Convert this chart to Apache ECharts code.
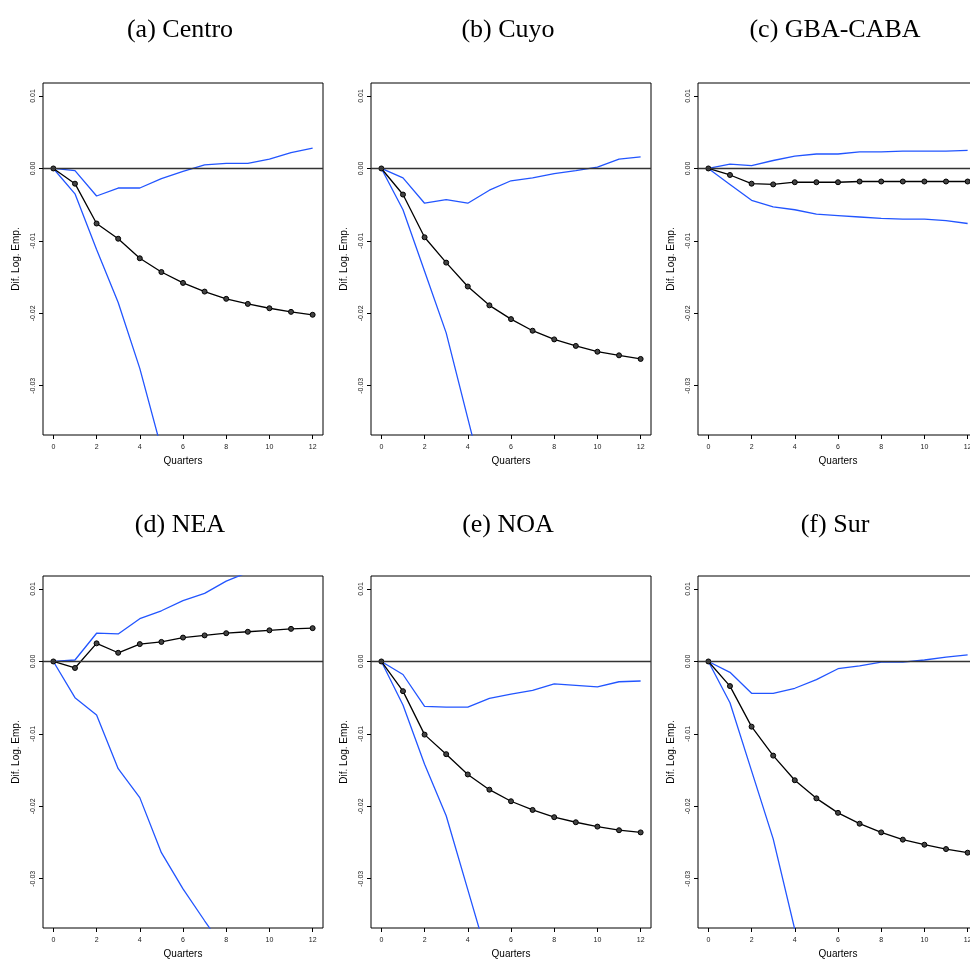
<!DOCTYPE html>
<html>
<head>
<meta charset="utf-8">
<script src="https://cdn.jsdelivr.net/npm/echarts@6.0.0/dist/echarts.min.js"></script>
<style>
  html, body { margin: 0; padding: 0; background: #fff; }
  #chart { width: 970px; height: 960px; }
</style>
</head>
<body>
<div id="chart"></div>
<script>
// quarters after the shock
const quarters = [0, 1, 2, 3, 4, 5, 6, 7, 8, 9, 10, 11, 12];
const xTicks = [0, 2, 4, 6, 8, 10, 12];
const yTicks = [-0.03, -0.02, -0.01, 0, 0.01];

// (a) Centro
const centroMean  = [0, -0.0021, -0.0076, -0.0097, -0.0124, -0.0143, -0.0158, -0.0170, -0.0180, -0.0187, -0.0193, -0.0198, -0.0202];
const centroUpper = [0, -0.0003, -0.0038, -0.0027, -0.0027, -0.0014, -0.0004, 0.0005, 0.0007, 0.0007, 0.0013, 0.0022, 0.0028];
const centroLower = [0, -0.0035, -0.0112, -0.0185, -0.0276, -0.0387];
// (b) Cuyo
const cuyoMean  = [0, -0.0036, -0.0095, -0.0130, -0.0163, -0.0189, -0.0208, -0.0224, -0.0236, -0.0245, -0.0253, -0.0258, -0.0263];
const cuyoUpper = [0, -0.0013, -0.0048, -0.0043, -0.0048, -0.0030, -0.0017, -0.0013, -0.0007, -0.0003, 0.0002, 0.0013, 0.0016];
const cuyoLower = [0, -0.0057, -0.0142, -0.0227, -0.0345, -0.0463];
// (c) GBA-CABA
const gbaMean  = [0, -0.0009, -0.0021, -0.0022, -0.0019, -0.0019, -0.0019, -0.0018, -0.0018, -0.0018, -0.0018, -0.0018, -0.0018];
const gbaUpper = [0, 0.0006, 0.0004, 0.0011, 0.0017, 0.0020, 0.0020, 0.0023, 0.0023, 0.0024, 0.0024, 0.0024, 0.0025];
const gbaLower = [0, -0.0022, -0.0044, -0.0053, -0.0057, -0.0063, -0.0065, -0.0067, -0.0069, -0.0070, -0.0070, -0.0072, -0.0076];
// (d) NEA
const neaMean  = [0, -0.0009, 0.0025, 0.0012, 0.0024, 0.0027, 0.0033, 0.0036, 0.0039, 0.0041, 0.0043, 0.0045, 0.0046];
const neaUpper = [0, 0.0002, 0.0039, 0.0038, 0.0059, 0.0070, 0.0084, 0.0094, 0.0111, 0.0123];
const neaLower = [0, -0.0050, -0.0074, -0.0148, -0.0188, -0.0264, -0.0314, -0.0358, -0.0401];
// (e) NOA
const noaMean  = [0, -0.0041, -0.0101, -0.0128, -0.0156, -0.0177, -0.0193, -0.0205, -0.0215, -0.0222, -0.0228, -0.0233, -0.0236];
const noaUpper = [0, -0.0018, -0.0062, -0.0063, -0.0063, -0.0051, -0.0045, -0.0040, -0.0031, -0.0033, -0.0035, -0.0028, -0.0027];
const noaLower = [0, -0.0060, -0.0142, -0.0213, -0.0315, -0.0417];
// (f) Sur
const surMean  = [0, -0.0034, -0.0090, -0.0130, -0.0164, -0.0189, -0.0209, -0.0224, -0.0236, -0.0246, -0.0253, -0.0259, -0.0264];
const surUpper = [0, -0.0015, -0.0044, -0.0044, -0.0037, -0.0025, -0.0010, -0.0006, -0.0001, -0.0001, 0.0002, 0.0006, 0.0009];
const surLower = [0, -0.0057, -0.0151, -0.0245, -0.0370];

const panels = [
  { title: '(a) Centro',   mean: centroMean, upper: centroUpper, lower: centroLower },
  { title: '(b) Cuyo',     mean: cuyoMean,   upper: cuyoUpper,   lower: cuyoLower },
  { title: '(c) GBA-CABA', mean: gbaMean,    upper: gbaUpper,    lower: gbaLower },
  { title: '(d) NEA',      mean: neaMean,    upper: neaUpper,    lower: neaLower },
  { title: '(e) NOA',      mean: noaMean,    upper: noaUpper,    lower: noaLower },
  { title: '(f) Sur',      mean: surMean,    upper: surUpper,    lower: surLower }
];

const lefts = [43, 371, 698];
const tops = [83, 576];
const titleCenters = [175, 503, 830];
const titleTops = [12, 507];
const blue = '#2255ff';
const sans = '"Liberation Sans", Arial, sans-serif';

const pairs = arr => arr.map((v, i) => [quarters[i], v]);

const option = { animation: false, title: [], grid: [], xAxis: [], yAxis: [], series: [] };

panels.forEach((p, i) => {
  const col = i % 3, row = Math.floor(i / 3);
  option.title.push({
    text: p.title, left: titleCenters[col], top: titleTops[row], textAlign: 'center',
    textStyle: { fontFamily: '"Liberation Serif", serif', fontSize: 26, fontWeight: 'normal', color: '#000' }
  });
  // the right column runs past the page edge, as in the original figure
  option.grid.push({
    left: lefts[col], top: tops[row], width: 280, height: 352,
    containLabel: false, outerBoundsMode: 'none',
    show: true, borderColor: '#000', borderWidth: 1, backgroundColor: 'transparent'
  });
  option.xAxis.push({
    type: 'value', gridIndex: i, min: -0.48, max: 12.48, position: 'bottom',
    name: 'Quarters', nameLocation: 'middle', nameGap: 21,
    nameTextStyle: { fontFamily: sans, fontSize: 10, color: '#000' },
    axisLine: { show: false, onZero: false },
    axisTick: { show: true, inside: false, length: 4, customValues: xTicks, lineStyle: { color: '#000' } },
    axisLabel: { customValues: xTicks, margin: 9, fontFamily: sans, fontSize: 7, color: '#222' },
    splitLine: { show: false }
  });
  option.yAxis.push({
    type: 'value', gridIndex: i, min: -0.0368, max: 0.0118, position: 'left',
    name: 'Dif. Log. Emp.', nameLocation: 'middle', nameGap: 22, nameRotate: 90,
    nameTextStyle: { fontFamily: sans, fontSize: 10, color: '#000' },
    axisLine: { show: false, onZero: false },
    axisTick: { show: true, inside: false, length: 4, customValues: yTicks, lineStyle: { color: '#000' } },
    axisLabel: { customValues: yTicks, rotate: 90, margin: 6, fontFamily: sans, fontSize: 7, color: '#222',
                 formatter: v => v.toFixed(2) },
    splitLine: { show: false }
  });
  option.series.push({
    type: 'line', xAxisIndex: i, yAxisIndex: i, data: pairs(p.lower),
    showSymbol: false, clip: true, lineStyle: { color: blue, width: 1.3 }
  });
  option.series.push({
    type: 'line', xAxisIndex: i, yAxisIndex: i, data: pairs(p.upper),
    showSymbol: false, clip: true, lineStyle: { color: blue, width: 1.3 }
  });
  option.series.push({
    type: 'line', xAxisIndex: i, yAxisIndex: i, data: pairs(p.mean), clip: true,
    symbol: 'circle', symbolSize: 5,
    lineStyle: { color: '#000', width: 1.3 },
    itemStyle: { color: '#444', borderColor: '#000', borderWidth: 1 },
    markLine: {
      silent: true, symbol: 'none', label: { show: false },
      lineStyle: { color: '#333', width: 1.3, type: 'solid' },
      data: [{ yAxis: 0 }]
    }
  });
});

const chart = echarts.init(document.getElementById('chart'), null, { renderer: 'canvas' });
chart.setOption(option);
</script>
</body>
</html>
